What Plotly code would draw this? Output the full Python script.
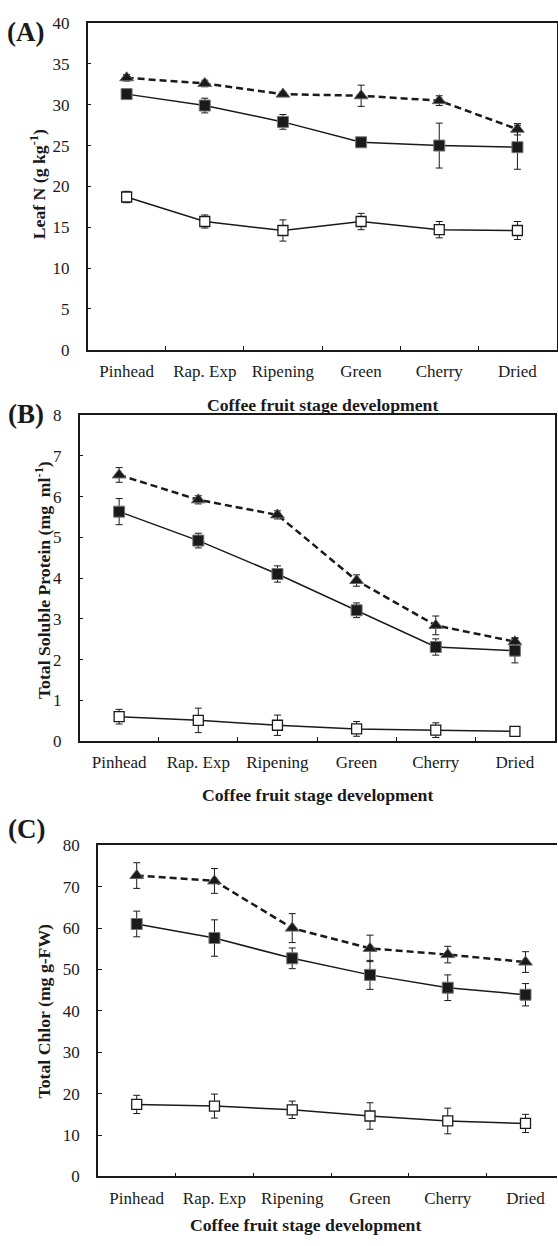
import plotly.graph_objects as go

stages = ["Pinhead", "Rap. Exp", "Ripening", "Green", "Cherry", "Dried"]

# Panel A: Leaf N (g kg-1)
leafN_tri = [33.3, 32.6, 31.3, 31.1, 30.5, 27.0]
leafN_tri_err = [0.4, 0.4, 0.3, 1.3, 0.6, 0.7]
leafN_fsq = [31.3, 29.9, 27.9, 25.4, 25.0, 24.8]
leafN_fsq_err = [0.4, 0.9, 0.9, 0.4, 2.75, 2.7]
leafN_osq = [18.7, 15.7, 14.6, 15.7, 14.7, 14.6]
leafN_osq_err = [0.7, 0.8, 1.3, 1.0, 1.0, 1.1]

# Panel B: Total soluble protein (mg ml-1)
prot_tri = [6.53, 5.92, 5.55, 3.94, 2.84, 2.44]
prot_tri_err = [0.18, 0.1, 0.1, 0.14, 0.23, 0.1]
prot_fsq = [5.63, 4.92, 4.10, 3.21, 2.31, 2.22]
prot_fsq_err = [0.32, 0.18, 0.2, 0.18, 0.2, 0.3]
prot_osq = [0.60, 0.51, 0.39, 0.30, 0.27, 0.24]
prot_osq_err = [0.18, 0.3, 0.25, 0.18, 0.18, 0.08]

# Panel C: Total chlorophyll (mg g-FW)
chl_tri = [72.7, 71.4, 60.0, 55.1, 53.6, 51.8]
chl_tri_err = [3.1, 3.0, 3.5, 3.2, 2.0, 2.5]
chl_fsq = [61.0, 57.6, 52.7, 48.7, 45.6, 43.9]
chl_fsq_err = [3.1, 4.4, 2.5, 3.5, 3.1, 2.7]
chl_osq = [17.4, 17.0, 16.1, 14.6, 13.4, 12.8]
chl_osq_err = [2.2, 2.9, 2.1, 3.2, 3.1, 2.2]

W, H = 558, 1246
FONT = "Liberation Serif"
INK = "#1a1a1a"

fig = go.Figure()

def add_series(xa, ya, y, err, kind):
    if kind == "tri":
        line = dict(color=INK, width=2.5, dash="7px,4px")
        marker = dict(symbol="triangle-up", size=12, color=INK,
                      line=dict(color="#666", width=1))
    elif kind == "fsq":
        line = dict(color=INK, width=1.5)
        marker = dict(symbol="square", size=11, color=INK,
                      line=dict(color="#777", width=1))
    else:
        line = dict(color=INK, width=1.5)
        marker = dict(symbol="square", size=10, color="white",
                      line=dict(color=INK, width=1.3))
    fig.add_trace(go.Scatter(
        x=stages, y=y, xaxis=xa, yaxis=ya, mode="lines+markers",
        line=line, marker=marker, showlegend=False,
        error_y=dict(type="data", array=err, visible=True,
                     color=INK, thickness=1, width=3.5),
    ))

add_series("x", "y", leafN_tri, leafN_tri_err, "tri")
add_series("x", "y", leafN_fsq, leafN_fsq_err, "fsq")
add_series("x", "y", leafN_osq, leafN_osq_err, "osq")
add_series("x2", "y2", prot_tri, prot_tri_err, "tri")
add_series("x2", "y2", prot_fsq, prot_fsq_err, "fsq")
add_series("x2", "y2", prot_osq, prot_osq_err, "osq")
add_series("x3", "y3", chl_tri, chl_tri_err, "tri")
add_series("x3", "y3", chl_fsq, chl_fsq_err, "fsq")
add_series("x3", "y3", chl_osq, chl_osq_err, "osq")

def px_x(v):
    return v / W

def px_y(v):
    return 1 - v / H

tickfont = dict(family=FONT, size=17, color=INK)
ytickfont = dict(family=FONT, size=17, color=INK)

def xaxis(domain, rng, anchor, mirror=True):
    return dict(domain=domain, anchor=anchor, range=rng, type="category",
                tickson="boundaries", ticks="inside", ticklen=4, tickwidth=1,
                tickcolor=INK, showline=True, linecolor=INK, linewidth=1.5,
                mirror=mirror, showgrid=False, zeroline=False,
                tickfont=tickfont, ticklabelstandoff=5, fixedrange=True)

def yaxis(domain, rng, dtick, anchor, mirror=True):
    return dict(domain=domain, anchor=anchor, range=rng, dtick=dtick,
                ticks="inside", ticklen=4, tickwidth=1, tickcolor=INK,
                showline=True, linecolor=INK, linewidth=1.5, mirror=mirror,
                showgrid=False, zeroline=False, tickfont=ytickfont,
                ticklabelstandoff=13, fixedrange=True)

# Panel geometry (pixels)
A = dict(l=87.7, r=557.5, t=14.3, b=346)
B = dict(l=79.7, r=555.5, t=412.3, b=743.5)
C = dict(l=98.0, r=558, t=849.3, b=1185.5)
c_cat = 77.9

fig.update_layout(
    width=W, height=H,
    margin=dict(l=0, r=0, t=0, b=0),
    paper_bgcolor="white", plot_bgcolor="white",
    xaxis=xaxis([px_x(A["l"]), px_x(A["r"])], [-0.5, 5.5], "y"),
    yaxis=yaxis([px_y(A["b"]), px_y(A["t"])], [0, 40], 5, "x"),
    xaxis2=xaxis([px_x(B["l"]), px_x(B["r"])], [-0.5, 5.5], "y2"),
    yaxis2=yaxis([px_y(B["b"]), px_y(B["t"])], [0, 8], 1, "x2"),
    xaxis3=xaxis([px_x(C["l"]), 1.0],
                 [-0.5, -0.5 + (C["r"] - C["l"]) / c_cat], "y3"),
    yaxis3=yaxis([px_y(C["b"]), px_y(C["t"])], [0, 80], 10, "x3", mirror=False),
)

title_font = dict(family=FONT, size=17.7, color=INK)
label_font = dict(family=FONT, size=27, color=INK)

annotations = [
    # panel labels
    dict(text="<b>(A)</b>", x=px_x(26), y=px_y(23), font=label_font),
    dict(text="<b>(B)</b>", x=px_x(26), y=px_y(411), font=label_font),
    dict(text="<b>(C)</b>", x=px_x(27), y=px_y(833), font=label_font),
    # x titles
    dict(text="<b>Coffee fruit stage development</b>", x=px_x(322.6), y=px_y(402), font=title_font),
    dict(text="<b>Coffee fruit stage development</b>", x=px_x(317.6), y=px_y(798), font=title_font),
    dict(text="<b>Coffee fruit stage development</b>", x=px_x(306), y=px_y(1235), font=title_font),
    # y titles
    dict(text="<b>Leaf N (g kg<sup>-1</sup>)</b>", x=px_x(38), y=px_y(178), textangle=-90, font=title_font),
    dict(text="<b>Total Soluble Protein (mg  ml<sup>-1</sup>)</b>", x=px_x(43), y=px_y(580), textangle=-90, font=title_font),
    dict(text="<b>Total Chlor (mg g-FW)</b>", x=px_x(45), y=px_y(1017), textangle=-90, font=title_font),
]
for a in annotations:
    a.update(xref="paper", yref="paper", showarrow=False, xanchor="center", yanchor="middle")
fig.update_layout(annotations=annotations)

fig.write_html(
    "out.html",
    config={"displayModeBar": False},
    post_script="document.body.style.margin='0';document.body.style.overflow='hidden';",
)
